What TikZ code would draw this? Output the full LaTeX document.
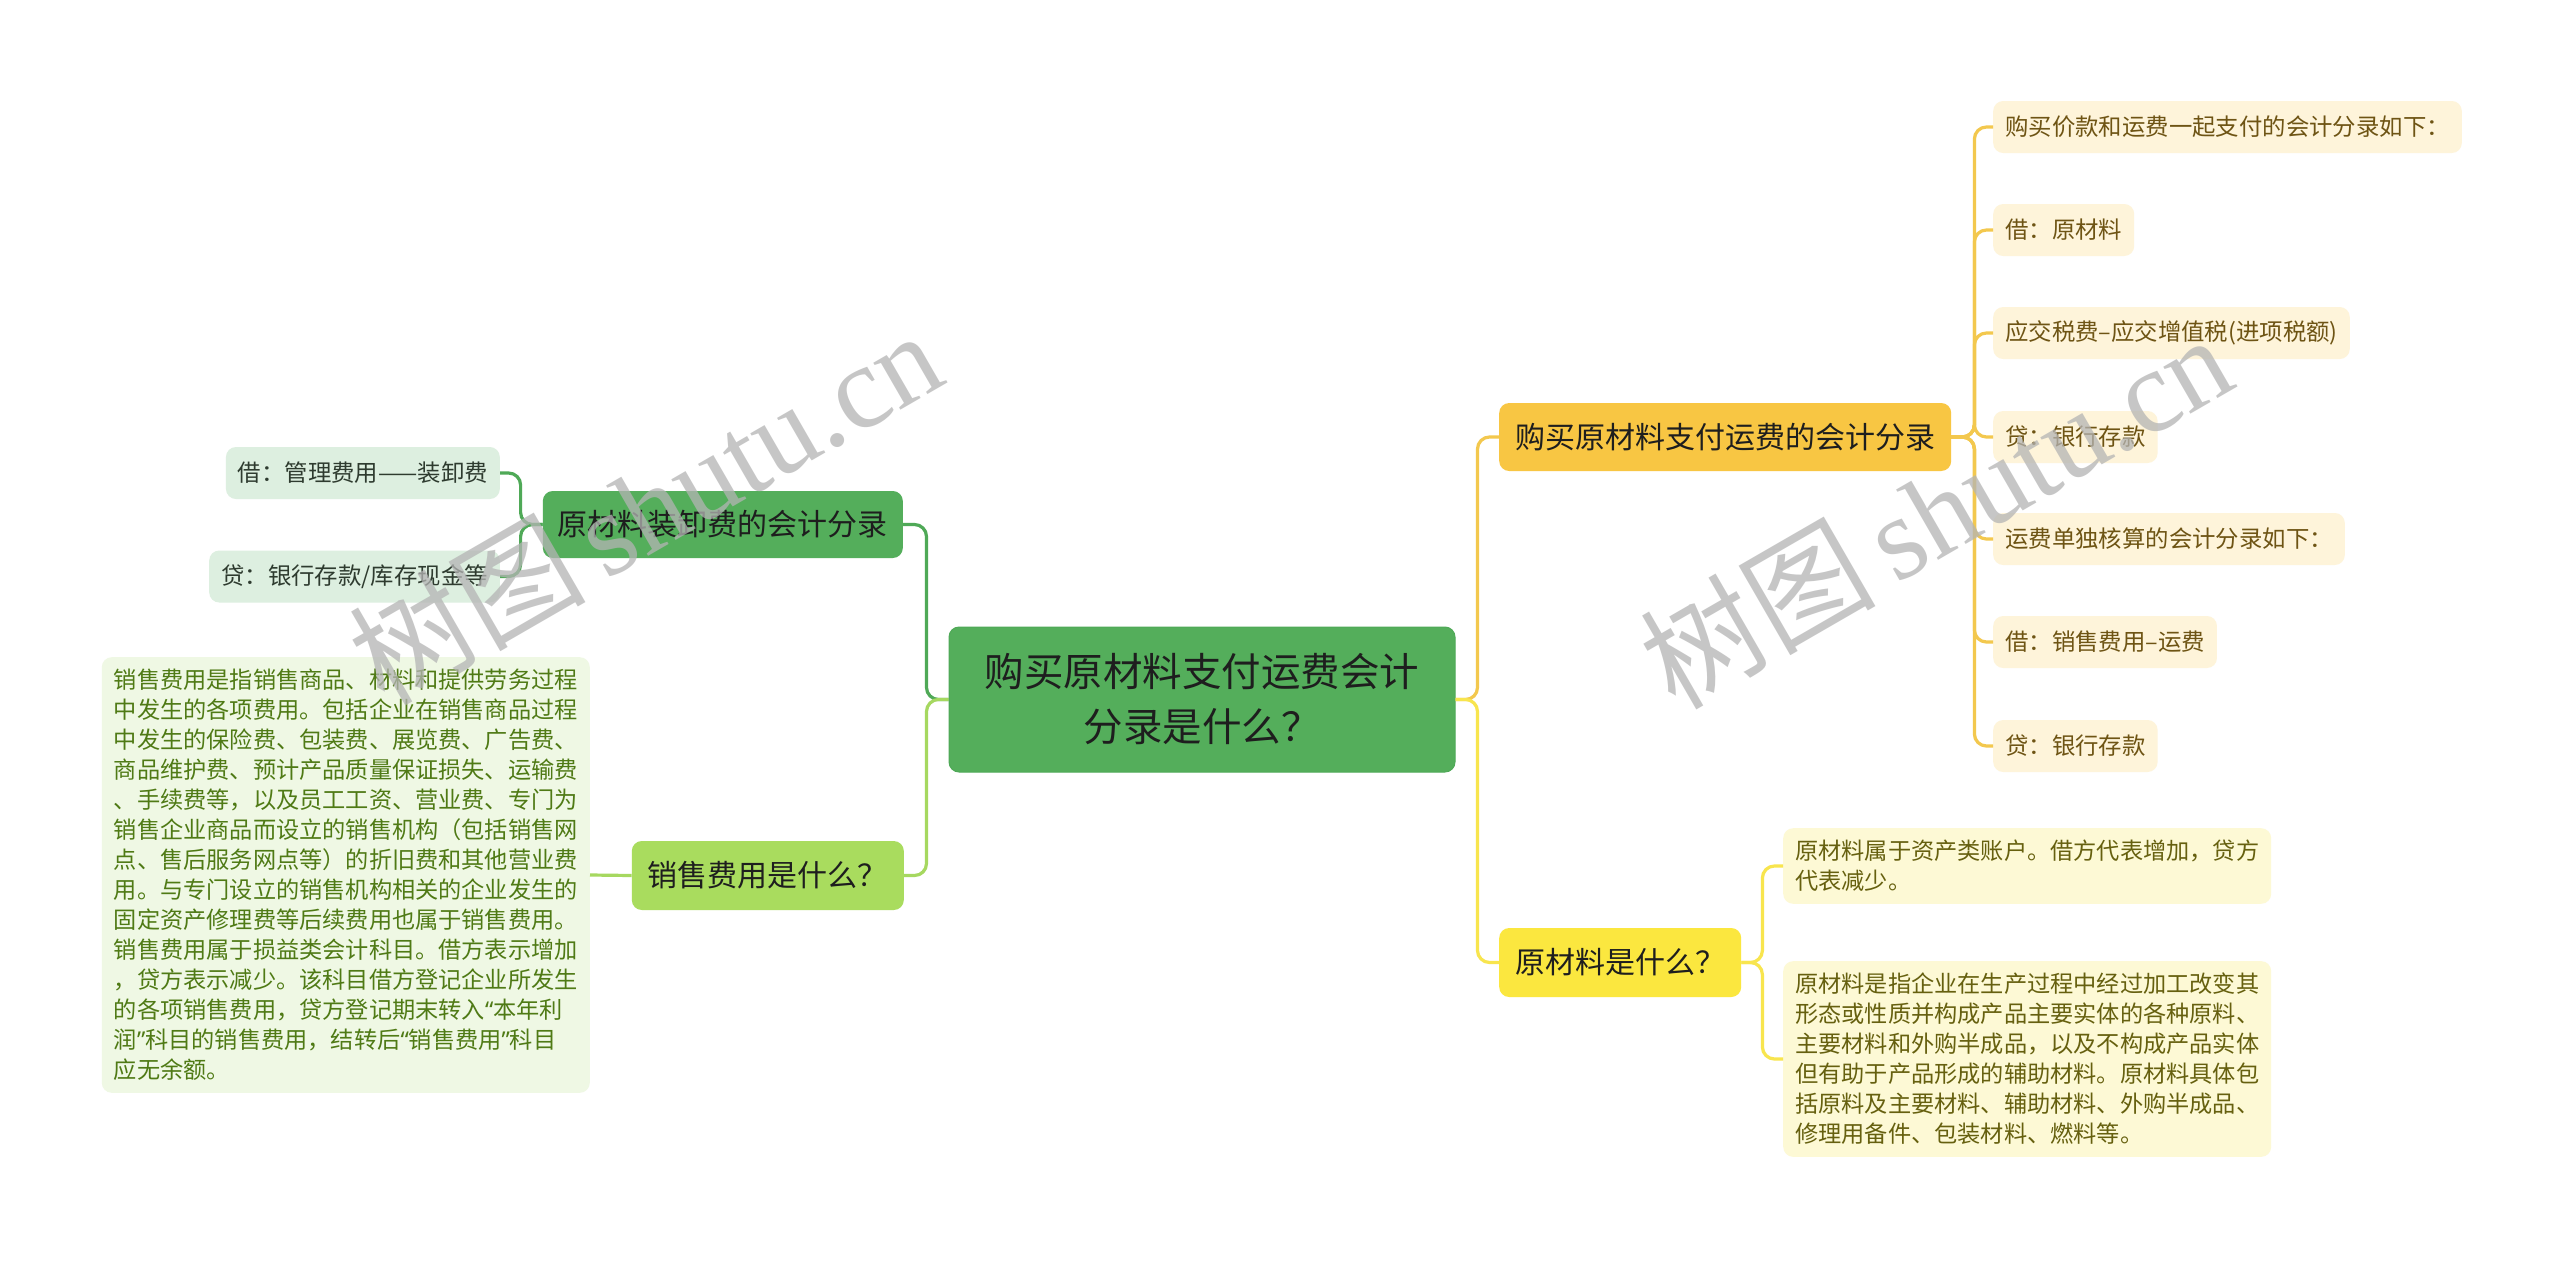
\documentclass[tikz,border=0pt]{standalone}
\usepackage{fontspec}
\setmainfont{Noto Sans CJK SC}
\newfontfamily\wmserif{Liberation Serif}
\newfontfamily\qfont{Noto Sans}
\newcommand{\myLQ}{{\qfont “}}
\newcommand{\myRQ}{{\qfont ”}}
\definecolor{cgreen}{HTML}{54AE5B}
\definecolor{cgreenline}{HTML}{4FA957}
\definecolor{lgleaf}{HTML}{DDEFE0}
\definecolor{lgtext}{HTML}{2E3B2F}
\definecolor{clime}{HTML}{A9DC5E}
\definecolor{climeline}{HTML}{A6D860}
\definecolor{salesleaf}{HTML}{EFF8E4}
\definecolor{salestext}{HTML}{4F7A15}
\definecolor{cgold}{HTML}{F8C643}
\definecolor{cgoldline}{HTML}{F3C84E}
\definecolor{goldleaf}{HTML}{FEF4DA}
\definecolor{goldtext}{HTML}{6E5414}
\definecolor{cyel}{HTML}{FBE73F}
\definecolor{cyelline}{HTML}{F8E54E}
\definecolor{yelleaf}{HTML}{FDF9D5}
\definecolor{yeltext}{HTML}{66600F}
\definecolor{darktext}{HTML}{1E1E1E}
\definecolor{wmgray}{HTML}{B4B4B4}
\begin{document}
\begin{tikzpicture}[x=1pt,y=-1pt,
  centerbox/.style={fill=cgreen, draw=cgreenline, line width=1pt, rounded corners=10pt,
    minimum width=506pt, minimum height=145pt, inner sep=0pt, align=center,
    text=darktext, font=\fontsize{39.5}{55}\selectfont},
  branchbox/.style={rounded corners=10pt, inner xsep=16pt, inner ysep=0pt,
    minimum height=68pt, text=darktext, font=\fontsize{30}{36}\selectfont},
  leafbox/.style={rounded corners=10pt, inner xsep=12pt, inner ysep=0pt,
    minimum height=52pt, font=\fontsize{23.4}{30}\selectfont},
  parabox/.style={rounded corners=10pt, inner xsep=12pt, inner ysep=12pt,
    align=left, font=\fontsize{23.2}{30}\selectfont},
  conn/.style={line width=3.2pt, rounded corners=12pt},
  wm/.style={text=wmgray, opacity=0.75, rotate=30}
]
\useasboundingbox (0,0) rectangle (2560,1261);
\fill[white] (0,0) rectangle (2560,1261);

% central
\node[centerbox] (c) at (1202,699.5) {购买原材料支付运费会计\\分录是什么？};

% right branch 1
\node[branchbox, fill=cgold, anchor=west] (rb1) at (1499,437) {购买原材料支付运费的会计分录};
\node[leafbox, fill=goldleaf, text=goldtext, anchor=west] (r1) at (1993,127) {购买价款和运费一起支付的会计分录如下：};
\node[leafbox, fill=goldleaf, text=goldtext, anchor=west] (r2) at (1993,230) {借：原材料};
\node[leafbox, fill=goldleaf, text=goldtext, anchor=west] (r3) at (1993,333) {应交税费–应交增值税(进项税额)};
\node[leafbox, fill=goldleaf, text=goldtext, anchor=west] (r4) at (1993,437) {贷：银行存款};
\node[leafbox, fill=goldleaf, text=goldtext, anchor=west] (r5) at (1993,539) {运费单独核算的会计分录如下：};
\node[leafbox, fill=goldleaf, text=goldtext, anchor=west] (r6) at (1993,642) {借：销售费用–运费};
\node[leafbox, fill=goldleaf, text=goldtext, anchor=west] (r7) at (1993,746) {贷：银行存款};

% right branch 2
\node[branchbox, fill=cyel, minimum height=69pt, anchor=west] (rb2) at (1499,962.5) {原材料是什么？};
\node[parabox, fill=yelleaf, text=yeltext, anchor=west] (ra) at (1783,866) {原材料属于资产类账户。借方代表增加，贷方\\代表减少。};
\node[parabox, fill=yelleaf, text=yeltext, anchor=west] (rbb) at (1783,1059) {原材料是指企业在生产过程中经过加工改变其\\形态或性质并构成产品主要实体的各种原料、\\主要材料和外购半成品，以及不构成产品实体\\但有助于产品形成的辅助材料。原材料具体包\\括原料及主要材料、辅助材料、外购半成品、\\修理用备件、包装材料、燃料等。};

% left branch 1
\node[branchbox, fill=cgreen, inner xsep=15pt, minimum height=67pt, anchor=east] (lb1) at (903,524.5) {原材料装卸费的会计分录};
\node[leafbox, fill=lgleaf, text=lgtext, anchor=east] (la) at (500,473) {借：管理费用——装卸费};
\node[leafbox, fill=lgleaf, text=lgtext, anchor=east] (lbb) at (500,576.5) {贷：银行存款/库存现金等};

% left branch 2
\node[branchbox, fill=clime, minimum height=69pt, anchor=east] (lb2) at (904,875.5) {销售费用是什么？};
\node[parabox, fill=salesleaf, text=salestext, anchor=east] (sl) at (590,875) {销售费用是指销售商品、材料和提供劳务过程\\中发生的各项费用。包括企业在销售商品过程\\中发生的保险费、包装费、展览费、广告费、\\商品维护费、预计产品质量保证损失、运输费\\、手续费等，以及员工工资、营业费、专门为\\销售企业商品而设立的销售机构（包括销售网\\点、售后服务网点等）的折旧费和其他营业费\\用。与专门设立的销售机构相关的企业发生的\\固定资产修理费等后续费用也属于销售费用。\\销售费用属于损益类会计科目。借方表示增加\\，贷方表示减少。该科目借方登记企业所发生\\的各项销售费用，贷方登记期末转入\myLQ 本年利\\润\myRQ 科目的销售费用，结转后\myLQ 销售费用\myRQ 科目\\应无余额。};

% connectors centre
\draw[conn, cgoldline] (c.east) -- ++(22,0) |- (rb1.west);
\draw[conn, cyelline] (c.east) -- ++(22,0) |- (rb2.west);
\draw[conn, cgreenline] (c.west) -- ++(-22,0) |- (lb1.east);
\draw[conn, climeline] (c.west) -- ++(-22,0) |- (lb2.east);

% right branch 1 leaves
\foreach \n in {r1,r2,r3,r4,r5,r6,r7}
  \draw[conn, cgoldline] (rb1.east) -- ++(23,0) |- (\n.west);
% right branch 2 leaves
\draw[conn, cyelline] (rb2.east) -- ++(21,0) |- (ra.west);
\draw[conn, cyelline] (rb2.east) -- ++(21,0) |- (rbb.west);
% left branch 1 leaves
\draw[conn, cgreenline] (lb1.west) -- ++(-22,0) |- (la.east);
\draw[conn, cgreenline] (lb1.west) -- ++(-22,0) |- (lbb.east);
% left branch 2 leaf
\draw[conn, climeline] (lb2.west) -- (sl.east);

% watermarks
\node[wm] (wm1) at (645,506) {\fontsize{118}{118}\selectfont 树图\,{\wmserif shutu.cn}};
\node[wm] (wm2) at (1935,510) {\fontsize{118}{118}\selectfont 树图\,{\wmserif shutu.cn}};
\end{tikzpicture}
\end{document}
